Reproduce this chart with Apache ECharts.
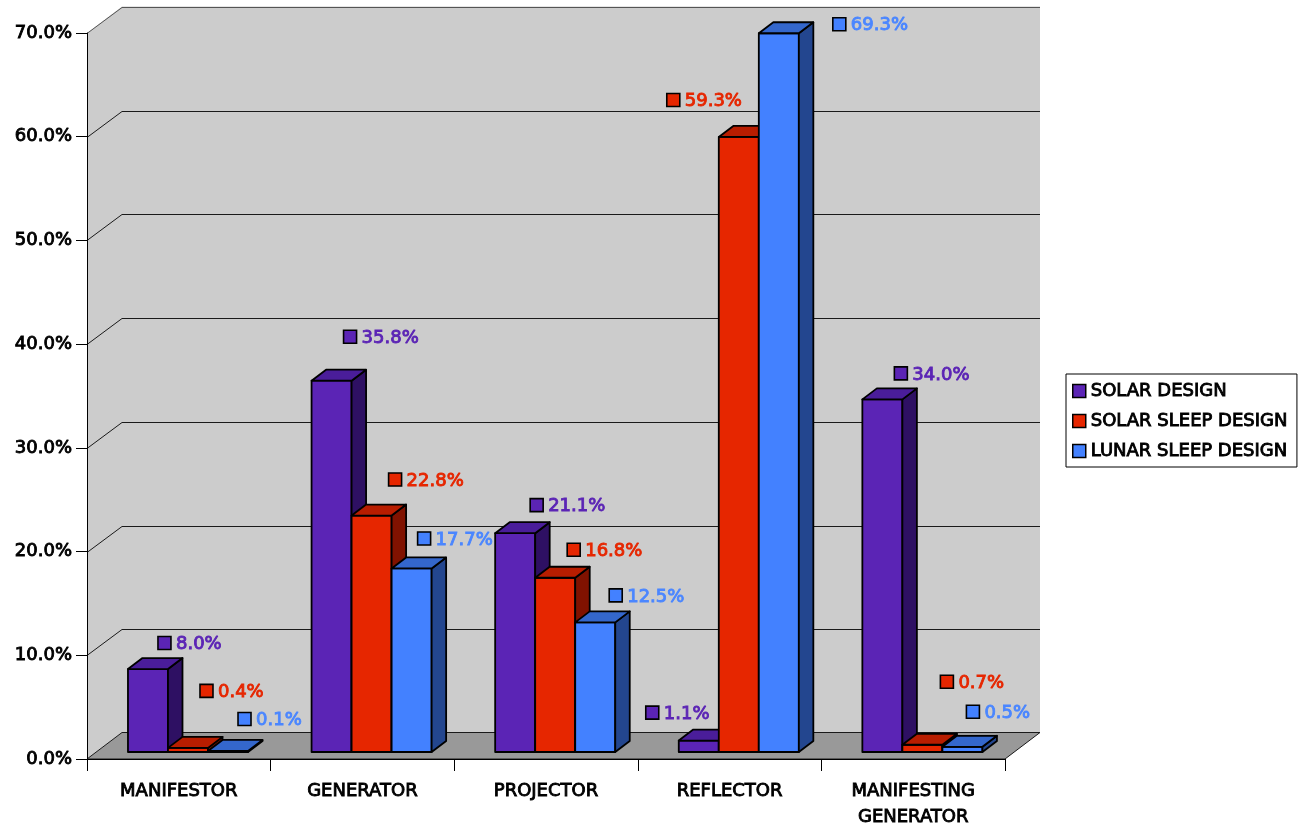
<!DOCTYPE html>
<html>
<head>
<meta charset="utf-8">
<script src="https://cdn.jsdelivr.net/npm/echarts@6/dist/echarts.min.js"></script>
<style>html,body{margin:0;padding:0;background:#fff;}#chart{width:1299px;height:827px;}</style>
</head>
<body>
<div id="chart"></div>
<script>
// ---------------- data ----------------
const categories = ['MANIFESTOR', 'GENERATOR', 'PROJECTOR', 'REFLECTOR', 'MANIFESTING\nGENERATOR'];
const seriesNames = ['SOLAR DESIGN', 'SOLAR SLEEP DESIGN', 'LUNAR SLEEP DESIGN'];
const solarDesign = [8.0, 35.8, 21.1, 1.1, 34.0];
const solarSleepDesign = [0.4, 22.8, 16.8, 59.3, 0.7];
const lunarSleepDesign = [0.1, 17.7, 12.5, 69.3, 0.5];
const yTicks = [0, 10, 20, 30, 40, 50, 60, 70];

// ---------------- style ----------------
const FONT_FAMILY = '"DejaVu Sans", Verdana, sans-serif';
const FONT_SIZE = 18;
const TEXT_WEIGHT = 0.9; // outline width used to thicken the text a little
const COLORS = [
  { front: '#5B24B5', top: '#4A1D9A', side: '#2E1063', text: '#5B24B5' },
  { front: '#E62600', top: '#B81D00', side: '#801200', text: '#E62600' },
  { front: '#4381FF', top: '#3467CC', side: '#23468F', text: '#4A86FF' }
];
const WALL_DEPTH = [35, -26.5];   // oblique depth of the chart box
const BAR_FRONT = [9.2, -7];      // bar front face offset inside the box
const BAR_DEPTH = [14.5, -11];    // bar thickness
const BAR_FRACTION = 0.218;       // bar width relative to category band
// manual label nudges [dx, dy] (series x category), like hand-moved Excel labels
const LABEL_NUDGE = [
  [[-2, 2], [0, -16], [3, 0], [-65, 0], [0, 2]],
  [[0, -29], [5, -8], [0, 0], [-84, -9], [6, -35]],
  [[-2, -4], [-6, -2], [2, 1], [42, 19], [-8, -7]]
];

const seriesValues = [solarDesign, solarSleepDesign, lunarSleepDesign];

function textStyle(color) {
  return {
    fontFamily: FONT_FAMILY, fontSize: FONT_SIZE, color: color,
    textBorderColor: color, textBorderWidth: TEXT_WEIGHT
  };
}

function renderWalls(params, api) {
  const cs = params.coordSys;
  const x0 = cs.x, x1 = cs.x + cs.width;
  const yB = api.coord([0, yTicks[0]])[1];
  const yT = api.coord([0, yTicks[yTicks.length - 1]])[1];
  const dx = WALL_DEPTH[0], dy = WALL_DEPTH[1];
  const children = [
    { type: 'polygon', shape: { points: [[x0, yT], [x0 + dx, yT + dy], [x1 + dx, yT + dy], [x1 + dx, yB + dy], [x0 + dx, yB + dy], [x0, yB]] },
      style: { fill: '#CCCCCC' } },
    { type: 'polygon', shape: { points: [[x0, yB], [x1, yB], [x1 + dx, yB + dy], [x0 + dx, yB + dy]] },
      style: { fill: '#999999', stroke: '#1a1a1a', lineWidth: 1 } }
  ];
  yTicks.forEach(function (v) {
    if (v === yTicks[0]) return;
    const y = Math.round(api.coord([0, v])[1]) + 0.5;
    const yb = Math.round(y + dy) + 0.5;
    children.push({ type: 'polyline', shape: { points: [[x0, y], [x0 + dx, yb], [x1 + dx, yb]] },
      style: { stroke: v === yTicks[yTicks.length - 1] ? '#555' : '#1a1a1a', lineWidth: 1, fill: null } });
  });
  return { type: 'group', children: children };
}

function makeBarRenderer(j) {
  return function (params, api) {
    const i = api.value(0), v = api.value(1);
    const top = api.coord([i, v]);
    const base = api.coord([i, 0]);
    const band = api.size([1, 0])[0];
    const bw = band * BAR_FRACTION;
    const xL = top[0] - 1.5 * bw + j * bw + BAR_FRONT[0];
    const xR = xL + bw;
    const yT = top[1] + BAR_FRONT[1];
    const yB = base[1] + BAR_FRONT[1];
    const dx = BAR_DEPTH[0], dy = BAR_DEPTH[1];
    const c = COLORS[j];
    const stroke = { stroke: '#000', lineWidth: 1.8, lineJoin: 'round' };
    const nudge = LABEL_NUDGE[j][i];
    const keyX = xL + 32 + nudge[0];
    const labY = yT - 28 + nudge[1];
    return {
      type: 'group',
      children: [
        { type: 'polygon', shape: { points: [[xL, yT], [xR, yT], [xR, yB], [xL, yB]] },
          style: Object.assign({ fill: c.front }, stroke) },
        { type: 'polygon', shape: { points: [[xR, yT], [xR + dx, yT + dy], [xR + dx, yB + dy], [xR, yB]] },
          style: Object.assign({ fill: c.side }, stroke) },
        { type: 'polygon', shape: { points: [[xL, yT], [xR, yT], [xR + dx, yT + dy], [xL + dx, yT + dy]] },
          style: Object.assign({ fill: c.top }, stroke) },
        { type: 'rect', z2: 100, shape: { x: keyX, y: labY - 6.5, width: 13, height: 13 },
          style: { fill: c.front, stroke: '#000', lineWidth: 1.6 } },
        { type: 'text', z2: 100, x: keyX + 18, y: labY + 1.5,
          style: { text: v.toFixed(1) + '%', fill: c.text, stroke: c.text, lineWidth: TEXT_WEIGHT,
                   font: FONT_SIZE + 'px ' + FONT_FAMILY, verticalAlign: 'middle', align: 'left' } }
      ]
    };
  };
}

const chart = echarts.init(document.getElementById('chart'), null, { renderer: 'canvas' });

const series = [{
  type: 'custom', name: '__walls', silent: true, z: 1,
  renderItem: renderWalls, data: [[0, 0]], encode: { x: 0, y: 1 }
}];
seriesValues.forEach(function (vals, j) {
  series.push({
    type: 'custom', name: seriesNames[j], z: 2,
    itemStyle: { color: COLORS[j].front },
    renderItem: makeBarRenderer(j),
    data: vals.map(function (v, i) { return [i, v]; }),
    encode: { x: 0, y: 1 }
  });
});

chart.setOption({
  animation: false,
  backgroundColor: '#ffffff',
  grid: { left: 87, right: 294, top: 33, bottom: 68, containLabel: false, outerBoundsMode: 'none' },
  xAxis: {
    type: 'category', data: categories,
    axisLine: { show: true, lineStyle: { color: '#000', width: 1 } },
    axisTick: { show: true, length: 12, alignWithLabel: false, lineStyle: { color: '#000' } },
    axisLabel: Object.assign({ margin: 19, lineHeight: 26, interval: 0, align: 'center' }, textStyle('#000')),
    splitLine: { show: false }, z: 5
  },
  yAxis: {
    type: 'value', min: yTicks[0], max: yTicks[yTicks.length - 1], interval: 10,
    axisLine: { show: true, lineStyle: { color: '#000', width: 1 } },
    axisTick: { show: true, length: 11, lineStyle: { color: '#000' } },
    axisLabel: Object.assign({ margin: 15, padding: [5, 0, 0, 0], formatter: function (v) { return v.toFixed(1) + '%'; } }, textStyle('#000')),
    splitLine: { show: false }, z: 5
  },
  legend: {
    orient: 'vertical', left: 1066, top: 374,
    itemWidth: 13, itemHeight: 13, itemGap: 10,
    padding: [7, 9, 6, 6],
    borderColor: '#000', borderWidth: 1,
    textStyle: Object.assign({ lineHeight: 20 }, textStyle('#000')),
    data: seriesNames.map(function (n, j) {
      return { name: n, icon: 'rect', itemStyle: { color: COLORS[j].front, borderColor: '#000', borderWidth: 1.5 } };
    })
  },
  series: series
});
</script>
</body>
</html>
